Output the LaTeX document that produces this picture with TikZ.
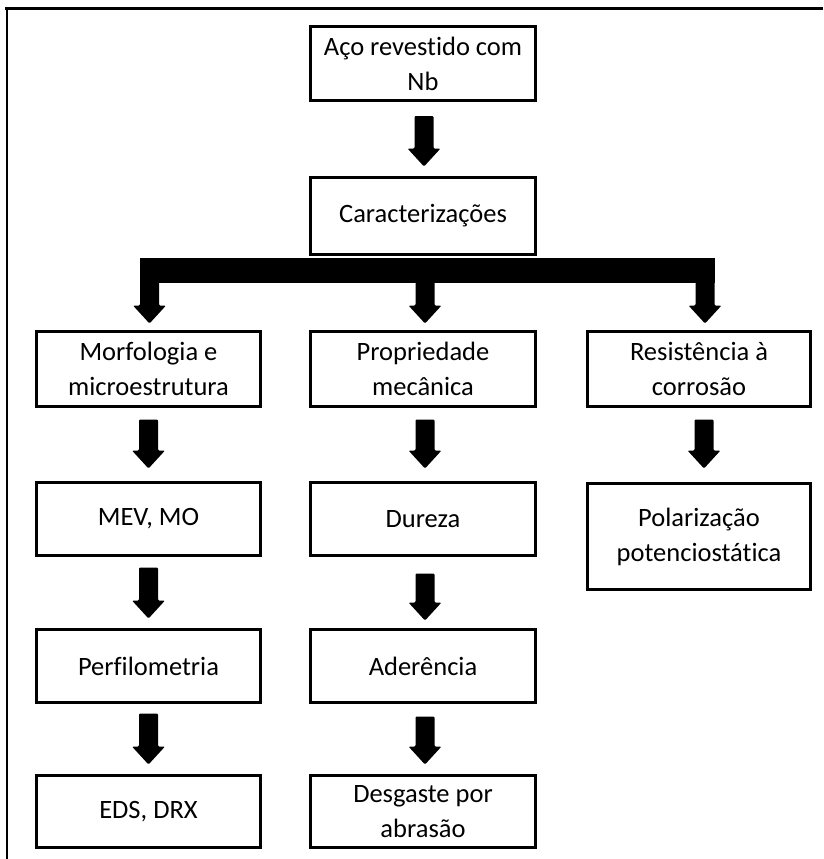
\documentclass[tikz,border=0pt]{standalone}
\usepackage{fontspec}
\setmainfont{Carlito}[Ligatures=NoCommon]
\usetikzlibrary{calc}

% Thick block arrow from a start point down to a tip point
\newcommand\blockarrow[2]{%
  \fill[black, rounded corners=1.2pt] let \p1=#1, \p2=#2 in
    (\x1-9.5pt,\y1) -- (\x1+9.5pt,\y1) -- (\x1+9.5pt,\y2+18pt)
    -- (\x1+16.5pt,\y2+18pt) -- (\x1,\y2) -- (\x1-16.5pt,\y2+18pt)
    -- (\x1-9.5pt,\y2+18pt) -- cycle;}

\begin{document}
\begin{tikzpicture}[x=1pt,y=-1pt,
  box/.style={draw=black, line width=3pt, minimum width=225pt, inner sep=0pt,
    align=center, font=\fontsize{26.5}{35}\selectfont},
  framestroke/.style={draw=black}]
\useasboundingbox (0,0) rectangle (823,859);

% page frame (top and left edges)
\draw[framestroke, line width=3pt] (5,9) -- (823,9);
\draw[framestroke, line width=2pt] (7,9) -- (7,859);

% boxes
\node[box, minimum height=74pt] (aco) at (423,63.5) {Aço revestido com\\Nb};
\node[box, minimum height=77pt] (car) at (423,216) {Caracterizações};

\node[box, minimum width=224pt, minimum height=75pt] (morf) at (148.5,369) {Morfologia e\\microestrutura};
\node[box, minimum height=75pt] (prop) at (423,369) {Propriedade\\mecânica};
\node[box, minimum width=223pt, minimum height=75pt] (res) at (699,369) {Resistência à\\corrosão};

\node[box, minimum width=224pt, minimum height=73pt] (mev) at (148.5,519) {MEV, MO};
\node[box, minimum height=73pt] (dur) at (423,519) {Dureza};
\node[box, minimum width=223pt, minimum height=106pt] (pol) at (699,536.5) {Polarização\\potenciostática};

\node[box, minimum width=224pt, minimum height=73pt] (perf) at (148.5,666) {Perfilometria};
\node[box, minimum height=73pt] (ader) at (423,666) {Aderência};

\node[box, minimum width=224pt, minimum height=72pt] (eds) at (148.5,811.5) {EDS, DRX};
\node[box, minimum height=72pt] (desg) at (423,811.5) {Desgaste por\\abrasão};

% arrow into the characterization box
\blockarrow{($(aco.south)+(1,14)$)}{($(car.north)+(1,-9.5)$)}

% branching bar below the characterization box
\coordinate (barL) at ($(morf.north |- car.south)+(-9,1.5)$);
\coordinate (barR) at ($(res.north |- car.south)+(15.5,26.5)$);
\fill[black] (barL) rectangle (barR);
\blockarrow{($(morf.north |- car.south)+(1,14)$)}{($(morf.north)+(1,-6.5)$)}
\blockarrow{($(prop.north |- car.south)+(2,14)$)}{($(prop.north)+(2,-6.5)$)}
\blockarrow{($(res.north |- car.south)+(6,14)$)}{($(res.north)+(6,-6.5)$)}

% first column
\blockarrow{($(morf.south)+(0,11.5)$)}{($(mev.north)+(0,-12.5)$)}
\blockarrow{($(mev.south)+(0,10.5)$)}{($(perf.north)+(0,-9.5)$)}
\blockarrow{($(perf.south)+(0,9.5)$)}{($(eds.north)+(0,-9.5)$)}

% second column
\blockarrow{($(prop.south)+(2,11.5)$)}{($(dur.north)+(2,-12.5)$)}
\blockarrow{($(dur.south)+(2,16.5)$)}{($(ader.north)+(2,-7.5)$)}
\blockarrow{($(ader.south)+(2,12.5)$)}{($(desg.north)+(2,-9.5)$)}

% third column
\blockarrow{($(res.south)+(5,11.5)$)}{($(pol.north)+(5,-13.5)$)}
\end{tikzpicture}
\end{document}
